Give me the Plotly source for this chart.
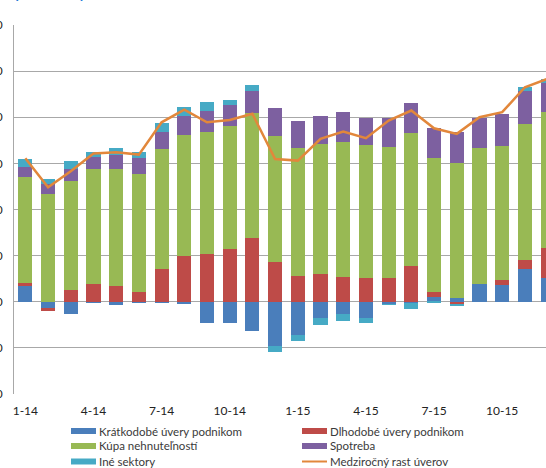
import plotly.graph_objects as go

# Months Jan 2014 - Dec 2015
months = [f"{m}-{y}" for y in (14, 15) for m in range(1, 13)]
x_idx = list(range(len(months)))
tick_pos = [0, 3, 6, 9, 12, 15, 18, 21]
tick_labels = ["1-14", "4-14", "7-14", "10-14", "1-15", "4-15", "7-15", "10-15"]

y_ticks = [-4, -2, 0, 2, 4, 6, 8, 10, 12]
y_tick_labels = ["-4,0", "-2,0", "0,0", "2,0", "4,0", "6,0", "8,0", "10,0", "12,0"]

# Contributions to annual loan growth (p.p.)
kratkodobe = [0.68, -0.26, -0.55, -0.04, -0.14, -0.07, -0.03, -0.09, -0.91, -0.91, -1.25, -1.93,
              -1.42, -0.70, -0.55, -0.70, -0.12, -0.05, 0.22, 0.17, 0.75, 0.72, 1.41, 1.04]
dlhodobe = [0.15, -0.12, 0.51, 0.78, 0.68, 0.42, 1.41, 1.99, 2.09, 2.28, 2.75, 1.72,
            1.12, 1.19, 1.09, 1.01, 1.01, 1.55, 0.22, -0.12, 0.0, 0.22, 0.39, 1.28]
kupa_nehnutelnosti = [4.56, 4.67, 4.74, 4.97, 5.07, 5.12, 5.22, 5.24, 5.29, 5.36, 5.42, 5.48,
                      5.53, 5.65, 5.85, 5.78, 5.72, 5.75, 5.80, 5.84, 5.90, 5.80, 5.91, 5.90]
spotreba = [0.46, 0.43, 0.50, 0.54, 0.62, 0.68, 0.72, 0.81, 0.87, 0.87, 0.96, 1.19,
            1.17, 1.20, 1.28, 1.17, 1.22, 1.32, 1.29, 1.33, 1.32, 1.40, 1.45, 1.27]
ine_sektory = [0.33, 0.22, 0.36, 0.22, 0.28, 0.26, 0.39, 0.39, 0.43, 0.25, 0.25, -0.26,
               -0.29, -0.32, -0.29, -0.22, -0.02, -0.25, -0.04, -0.03, 0.0, 0.0, 0.14, 0.17]
medzirocny_rast = [6.22, 4.96, 5.66, 6.43, 6.48, 6.38, 7.78, 8.33, 7.78, 7.88, 8.15, 6.19,
                   6.12, 7.06, 7.38, 7.09, 7.86, 8.29, 7.52, 7.28, 8.00, 8.22, 9.30, 9.67]

bar_series = [
    ("Krátkodobé úvery podnikom", kratkodobe, "#4A7EBB"),
    ("Dlhodobé úvery podnikom", dlhodobe, "#BE4B48"),
    ("Kúpa nehnuteľností", kupa_nehnutelnosti, "#98B954"),
    ("Spotreba", spotreba, "#7D60A0"),
    ("Iné sektory", ine_sektory, "#46AAC5"),
]
line_name = "Medziročný rast úverov"
line_color = "#E2873B"

W, H = 546, 468
M_L, M_R, M_T, M_B = 14, 0, 25, 74
PW, PH = W - M_L - M_R, H - M_T - M_B

fig = go.Figure()
for name, vals, col in bar_series:
    fig.add_trace(go.Bar(x=x_idx, y=vals, name=name, marker=dict(color=col, line=dict(width=0)),
                         width=0.62, showlegend=False))
fig.add_trace(go.Scatter(x=x_idx, y=medzirocny_rast, mode="lines", name=line_name,
                         line=dict(color=line_color, width=2.5), showlegend=False))

def px_x(p):
    return (p - M_L) / PW

def px_y(p):
    return (H - M_B - p) / PH

# Legend drawn below the plot in two columns
legend_items = [
    (bar_series[0][0], bar_series[0][2], "bar"), (bar_series[1][0], bar_series[1][2], "bar"),
    (bar_series[2][0], bar_series[2][2], "bar"), (bar_series[3][0], bar_series[3][2], "bar"),
    (bar_series[4][0], bar_series[4][2], "bar"), (line_name, line_color, "line"),
]
shapes = []
annotations = []
col_x = [71, 302]
row_y = [431, 446, 461.5]
for i, (name, col, kind) in enumerate(legend_items):
    cx = col_x[i % 2]
    cy = row_y[i // 2]
    if kind == "bar":
        shapes.append(dict(type="rect", xref="paper", yref="paper",
                           x0=px_x(cx), x1=px_x(cx + 25), y0=px_y(cy + 3), y1=px_y(cy - 3),
                           fillcolor=col, line=dict(width=0)))
    else:
        shapes.append(dict(type="line", xref="paper", yref="paper",
                           x0=px_x(cx), x1=px_x(cx + 25), y0=px_y(cy), y1=px_y(cy),
                           line=dict(color=col, width=2)))
    annotations.append(dict(text=name, xref="paper", yref="paper", x=px_x(cx + 26), y=px_y(cy),
                            xanchor="left", yanchor="middle", showarrow=False,
                            font=dict(family="Lato", size=11.5, color="#3A3A3A")))

# Chart heading above the frame
annotations.append(dict(text="prírastky", xref="paper", yref="paper", x=px_x(13), y=px_y(3.5),
                        xanchor="left", yanchor="bottom", showarrow=False,
                        font=dict(family="Lato", size=19, color="#1E7BD8")))

fig.update_layout(
    width=W, height=H,
    margin=dict(l=M_L, r=M_R, t=M_T, b=M_B, pad=0),
    paper_bgcolor="white", plot_bgcolor="white",
    barmode="relative", bargap=0,
    shapes=shapes, annotations=annotations,
    font=dict(family="Lato", color="#222222"),
    xaxis=dict(range=[-0.5, 22.93], tickvals=tick_pos, ticktext=tick_labels,
               showgrid=False, zeroline=False, showline=False, automargin=False,
               ticks="outside", ticklen=6, tickcolor="rgba(0,0,0,0)",
               tickfont=dict(family="Lato", size=12, color="#222222")),
    yaxis=dict(range=[-4, 12], tickvals=y_ticks, ticktext=y_tick_labels,
               showgrid=True, gridcolor="#A8A8A8", gridwidth=1, automargin=False,
               zeroline=False, showline=True, linecolor="#A8A8A8", linewidth=1,
               ticks="outside", ticklen=8, tickcolor="rgba(0,0,0,0)",
               tickfont=dict(family="Lato", size=12, color="#222222")),
)

fig.write_html("out.html")
